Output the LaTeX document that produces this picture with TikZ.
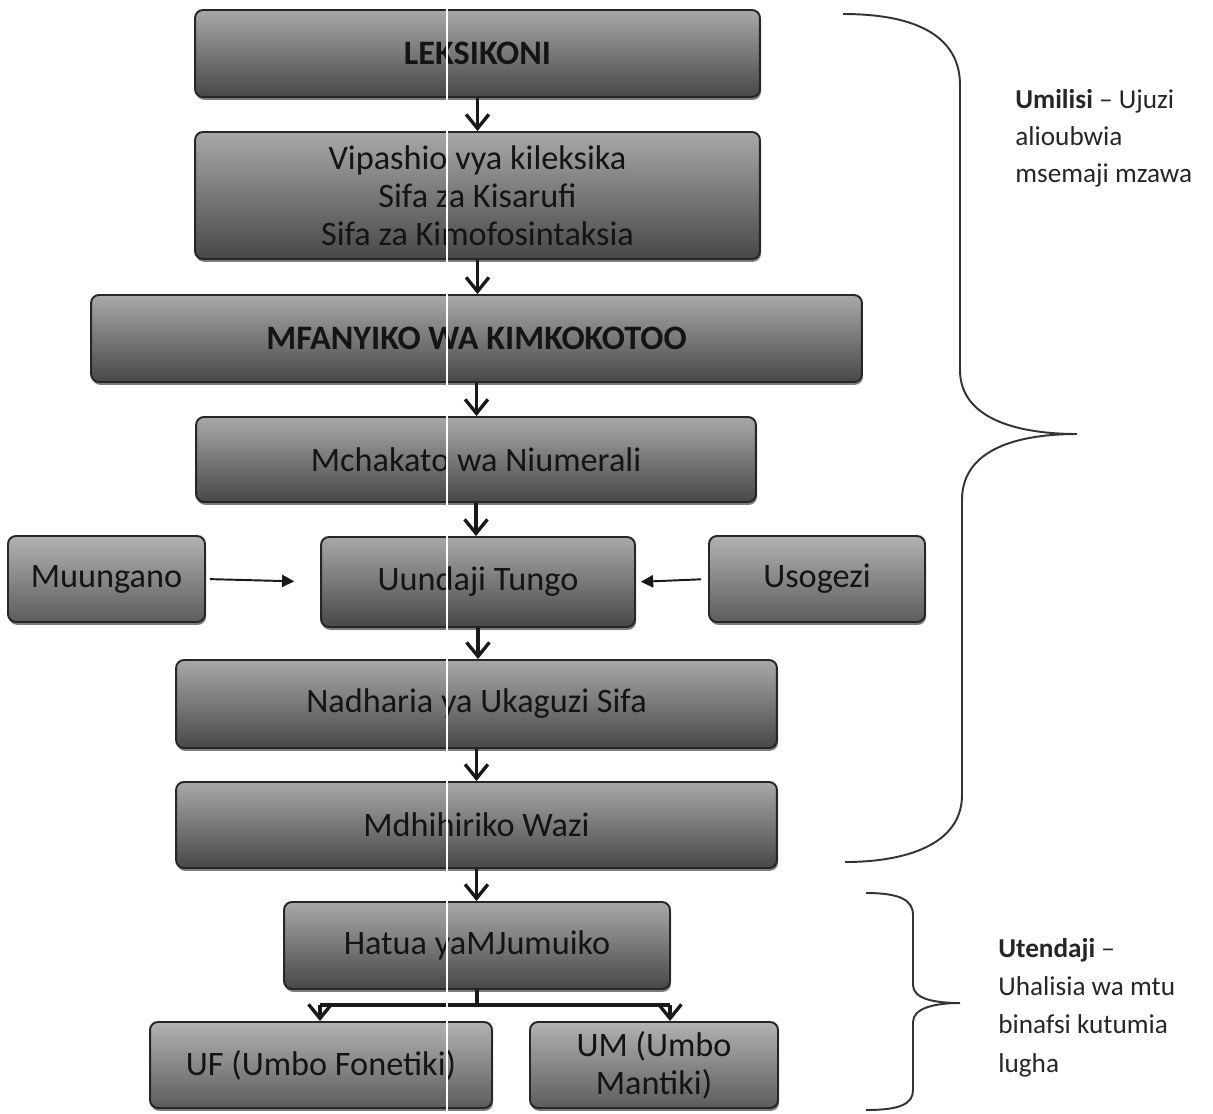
\documentclass[tikz,border=0pt]{standalone}
\usepackage{fontspec}
\setmainfont{Carlito}
\usetikzlibrary{arrows.meta,shadows}
\begin{document}
\begin{tikzpicture}[x=0.02cm,y=-0.02cm,
  box/.style={rounded corners=4.5pt, draw=black!85, line width=1.1pt,
    top color=black!34, bottom color=black!72,
    drop shadow={shadow xshift=0.6pt, shadow yshift=-1.6pt, fill=black!60, opacity=0.85},
    text=black!92, font=\fontsize{19.5}{21.5}\selectfont, align=center, inner sep=0pt},
  lightbox/.style={box, top color=black!30, bottom color=black!64},
  flow/.style={draw=black!90, line width=1.8pt,
    -{Straight Barb[length=8pt,width=13pt,line width=1.9pt]}},
  side/.style={draw=black!90, line width=1.1pt, -{Triangle[length=7pt,width=7pt]}},
  brace/.style={draw=black!80, line width=1.1pt},
  note/.style={anchor=base west, inner sep=0pt, text=black!85,
    font=\fontsize{15.5}{21}\selectfont}]
\useasboundingbox[fill=white] (0,0) rectangle (1213,1113);

% main column of steps
\node[box, minimum width=11.3cm, minimum height=1.74cm] (lek) at (477.5,53.5)
  {\bfseries LEKSIKONI};
\node[box, minimum width=11.3cm, minimum height=2.54cm] (vip) at (477.5,195.5)
  {Vipashio vya kileksika\\ Sifa za Kisarufi\\ Sifa za Kimofosintaksia};
\node[box, minimum width=15.42cm, minimum height=1.74cm] (mfa) at (476.5,338.5)
  {\bfseries MFANYIKO WA KIMKOKOTOO};
\node[box, minimum width=11.2cm, minimum height=1.7cm] (mch) at (476,459.5)
  {Mchakato wa Niumerali};
\node[lightbox, minimum width=3.94cm, minimum height=1.72cm] (muu) at (106.5,579)
  {Muungano};
\node[box, minimum width=6.28cm, minimum height=1.8cm] (uun) at (478,582)
  {Uundaji Tungo};
\node[lightbox, minimum width=4.32cm, minimum height=1.72cm] (uso) at (817,579)
  {Usogezi};
\node[box, minimum width=12.02cm, minimum height=1.76cm] (nad) at (476.5,704)
  {Nadharia ya Ukaguzi Sifa};
\node[box, minimum width=12.02cm, minimum height=1.72cm] (mdh) at (476.5,825)
  {Mdhihiriko Wazi};
\node[box, minimum width=7.72cm, minimum height=1.74cm] (hat) at (477,945.5)
  {Hatua yaMJumuiko};
\node[lightbox, minimum width=6.84cm, minimum height=1.72cm] (uf) at (321,1065)
  {UF (Umbo Fonetiki)};
\node[lightbox, minimum width=4.96cm, minimum height=1.72cm] (um) at (654,1065)
  {UM (Umbo\\ Mantiki)};

% downward connectors
\draw[flow] (lek.south) -- (lek.south |- vip.north);
\draw[flow] (vip.south) -- (vip.south |- mfa.north);
\draw[flow] (mfa.south) -- (mfa.south |- mch.north);
\draw[flow] (mch.south) -- (mch.south |- uun.north);
\draw[flow] (uun.south) -- (uun.south |- nad.north);
\draw[flow] (nad.south) -- (nad.south |- mdh.north);
\draw[flow] (mdh.south) -- (mdh.south |- hat.north);

% side inputs
\draw[side, shorten <=2.3pt, shorten >=14.7pt] (muu.east) -- (uun.west);
\draw[side, shorten <=4pt, shorten >=2.8pt] (uso.west) -- (uun.east);

% split into the two forms
\coordinate (brM) at (477,1005);
\coordinate (brL) at (320,1005);
\coordinate (brR) at (670,1005);
\draw[draw=black!90, line width=1.8pt] (hat.south) -- (brM);
\draw[draw=black!90, line width=2.2pt] (brL) -- (brR);
\draw[flow] (brL) -- (brL |- uf.north);
\draw[flow] (brR) -- (brR |- um.north);

% braces
\draw[brace] (843,14) .. controls (930,14) and (960,45) .. (960,85)
  -- (960,370) .. controls (960,420) and (1020,434) .. (1077,434)
  .. controls (1020,434) and (962,448) .. (962,500)
  -- (962,795) .. controls (962,845) and (905,862) .. (845,862);
\draw[brace] (866,893) .. controls (900,893) and (913,900) .. (913,915)
  -- (913,985) .. controls (913,999) and (935,1003) .. (960,1003)
  .. controls (935,1003) and (913,1008) .. (913,1022)
  -- (913,1090) .. controls (913,1104) and (900,1110) .. (866,1110);

% notes
\node[note] (n1) at (1015,108) {\textbf{Umilisi} -- Ujuzi};
\node[note] (n2) at (1015,145) {alioubwia};
\node[note] (n3) at (1015,182) {msemaji mzawa};
\node[note] (n4) at (998,957) {\textbf{Utendaji} --};
\node[note] (n5) at (998,995) {Uhalisia wa mtu};
\node[note] (n6) at (998,1033) {binafsi kutumia};
\node[note] (n7) at (998,1072) {lugha};

% light streak across the column
\draw[white, line width=1.6pt] (447,0) -- (447,1113);
\end{tikzpicture}
\end{document}
